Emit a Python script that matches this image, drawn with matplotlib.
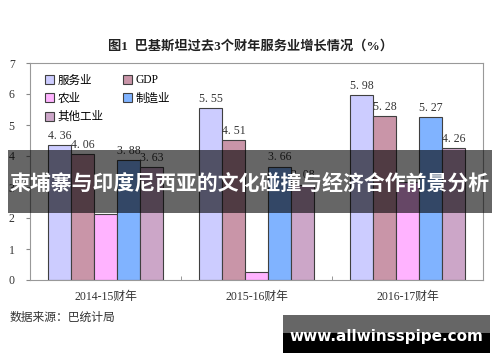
import numpy as np
from matplotlib import pyplot as plt
from matplotlib.patches import Rectangle

plt.rcParams['font.family'] = ['Liberation Serif', 'Noto Sans CJK SC', 'DejaVu Sans']

# data
years = ['2014-15财年', '2015-16财年', '2016-17财年']
series = ['服务业', 'GDP', '农业', '制造业', '其他工业']
services = [4.36, 5.55, 5.98]
gdp = [4.06, 4.51, 5.28]
agri = [2.13, 0.27, 3.16]
manuf = [3.88, 3.66, 5.27]
other = [3.63, 3.08, 4.26]
values = [services, gdp, agri, manuf, other]
show_label = [True, True, False, True, True]   # agriculture has no labels
colors = ['#ccccff', '#c995a8', '#ffb3ff', '#80b3ff', '#cca6c8']

title = '图1  巴基斯坦过去3个财年服务业增长情况（%）'
source = '数据来源：巴统计局'
banner = '柬埔寨与印度尼西亚的文化碰撞与经济合作前景分析'
site = 'www.allwinsspipe.com'

W, H = 500, 362
fig = plt.figure(figsize=(W / 100, H / 100), dpi=100)
fig.patch.set_facecolor('white')
ax = fig.add_axes([30 / W, 1 - 280 / H, 453 / W, 217 / H])

x = np.arange(len(years))
width = 0.152
bars = []
for k, (vals, c) in enumerate(zip(values, colors)):
    pos = x + (k - 2) * width
    b = ax.bar(pos, vals, width, color=c, edgecolor='#404040', linewidth=0.8, label=series[k])
    bars.append(b)
    if show_label[k]:
        for px, v in zip(pos, vals):
            ax.text(px, v + 0.1, f'{v:.2f}'.replace('.', '. '), ha='center', va='bottom',
                    fontsize=8.5, color='#333333')

ax.set_xlim(-0.5, 2.5)
ax.set_ylim(0, 7)
ax.set_yticks(range(8))
ax.set_xticks(x)
ax.set_xticklabels(years, fontsize=8.5, color='#333333')
ax.set_xticks([0.5, 1.5], minor=True)
ax.tick_params(axis='x', which='major', length=0, pad=8)
ax.tick_params(axis='x', which='minor', direction='in', length=3, color='#888888')
ax.tick_params(axis='y', labelsize=8.5, length=3, color='#888888', labelcolor='#333333', pad=8)
for s in ax.spines.values():
    s.set_color('#999999')
    s.set_linewidth(0.8)

# legend in row order: 服务业 GDP / 农业 制造业 / 其他工业
order = [0, 2, 4, 1, 3]
ax.legend([bars[i] for i in order], [series[i] for i in order], ncol=2, loc='upper left',
          bbox_to_anchor=(0.01, 0.995), frameon=False, handlelength=0.8,
          handleheight=0.8, handletextpad=0.3, columnspacing=1.7, labelspacing=0.55,
          prop={'family': ['Liberation Serif', 'Noto Sans CJK SC'], 'size': 8.3})

fig.text(250 / W, 1 - 46 / H, title, ha='center', va='center', fontsize=9.5,
         fontweight='bold', color='#222222')
fig.text(10 / W, 1 - 318 / H, source, ha='left', va='center', fontsize=8.5, color='#333333')

# overlay banner
fig.patches.append(Rectangle((8 / W, 1 - 213 / H), 484 / W, 63 / H, transform=fig.transFigure,
                             facecolor='black', alpha=0.6, edgecolor='none', zorder=5))
fig.text(250 / W, 1 - 183 / H, banner, ha='center', va='center', fontsize=15.0,
         fontweight='bold', color='white', family=['Noto Sans CJK SC', 'DejaVu Sans'], zorder=6)

# site watermark
fig.patches.append(Rectangle((283 / W, 1 - 353 / H), 207 / W, 38 / H, transform=fig.transFigure,
                             facecolor='black', edgecolor='none', zorder=5))
fig.patches.append(Rectangle((283 / W, 1 - 333 / H), 207 / W, 18 / H, transform=fig.transFigure,
                             facecolor='#666666', edgecolor='none', zorder=5))
fig.text(386 / W, 1 - 337 / H, site, ha='center', va='center', fontsize=11,
         fontweight='bold', color='white', family='DejaVu Sans', zorder=6)

fig.savefig('out.png', dpi=100)
